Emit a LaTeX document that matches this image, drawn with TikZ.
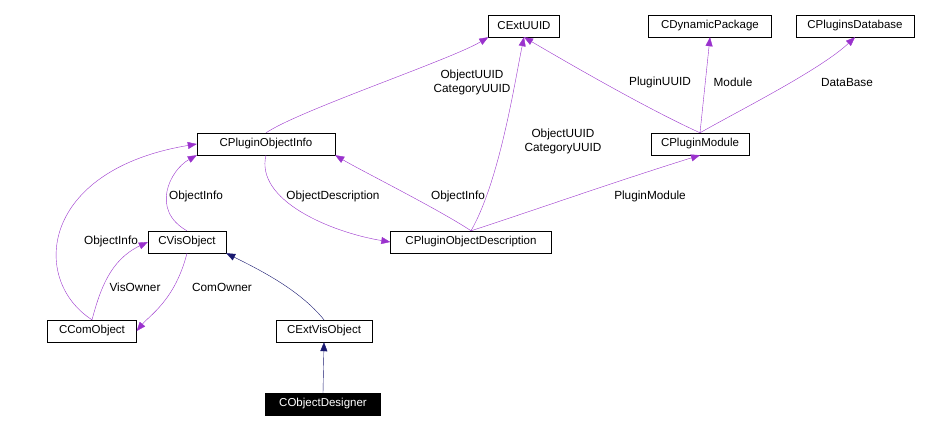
\documentclass[tikz,border=0pt]{standalone}
\usepackage{fontspec}
\setmainfont{Liberation Sans}
\usetikzlibrary{arrows.meta}
\definecolor{edge}{RGB}{154,50,205}
\definecolor{navy}{RGB}{25,25,112}
\begin{document}
\begin{tikzpicture}[x=1pt,y=-1pt,
  box/.style={draw,fill=white,inner sep=0pt,minimum height=22pt,font=\fontsize{11.5}{12}\selectfont},
  lab/.style={font=\fontsize{11.8}{14}\selectfont,align=center,inner sep=1pt},
  use/.style={draw=edge,color=edge,-{Triangle[length=9pt,width=7pt]}},
  inh/.style={draw=navy,-{Triangle[length=9pt,width=7pt]}}]
\useasboundingbox (0,0) rectangle (925,431);
\node[box,minimum width=71pt] (uuid) at (524,26) {CExtUUID};
\node[box,minimum width=123pt] (dyn) at (710,26) {CDynamicPackage};
\node[box,minimum width=118pt] (pdb) at (855,26) {CPluginsDatabase};
\node[box,minimum width=138pt] (poi) at (266,144) {CPluginObjectInfo};
\node[box,minimum width=98pt] (pm) at (700,144) {CPluginModule};
\node[box,minimum width=78pt] (vis) at (187,242) {CVisObject};
\node[box,minimum width=161pt] (pod) at (471,242) {CPluginObjectDescription};
\node[box,minimum width=89pt] (com) at (92,331) {CComObject};
\node[box,minimum width=96pt] (evo) at (324,331) {CExtVisObject};
\node[box,minimum width=115pt,fill=black,text=white] (od) at (323,404) {CObjectDesigner};

\draw[use] (poi.north) .. controls (300,110) and (450,60) .. (uuid.south west);
\draw[use] (pod.north) .. controls (500,180) and (515,80) .. (uuid.south);
\draw[use] (pm.north) .. controls (650,110) and (580,70) .. (uuid.south);
\draw[use] (pm.north) -- (dyn.south);
\draw[use] (pm.north) .. controls (740,110) and (820,70) .. (pdb.south);
\draw[use] (pod.north) .. controls (440,210) and (360,170) .. (poi.south east);
\draw[use] (poi.south) .. controls (255,200) and (330,232) .. (pod.west);
\draw[use] (pod.north) .. controls (520,215) and (620,180) .. (pm.south);
\draw[use] (vis.north) .. controls (150,210) and (170,170) .. (poi.south west);
\draw[use] (com.north) .. controls (30,280) and (40,170) .. (poi.west);
\draw[use] (com.north) .. controls (100,290) and (110,260) .. (vis.west);
\draw[use] (vis.south) .. controls (175,300) and (150,315) .. (com.east);
\draw[inh] (evo.north) .. controls (300,290) and (260,270) .. (vis.south east);
\draw[inh] (od.north) -- (evo.south);

\node[lab] at (472,82) {ObjectUUID\\CategoryUUID};
\node[lab] at (563,141) {ObjectUUID\\CategoryUUID};
\node[lab] at (660,82) {PluginUUID};
\node[lab] at (733,82) {Module};
\node[lab] at (847,82) {DataBase};
\node[lab] at (458,196) {ObjectInfo};
\node[lab] at (333,196) {ObjectDescription};
\node[lab] at (650,196) {PluginModule};
\node[lab] at (196,196) {ObjectInfo};
\node[lab] at (111,241) {ObjectInfo};
\node[lab] at (135,287) {VisOwner};
\node[lab] at (222,287) {ComOwner};
\end{tikzpicture}
\end{document}
